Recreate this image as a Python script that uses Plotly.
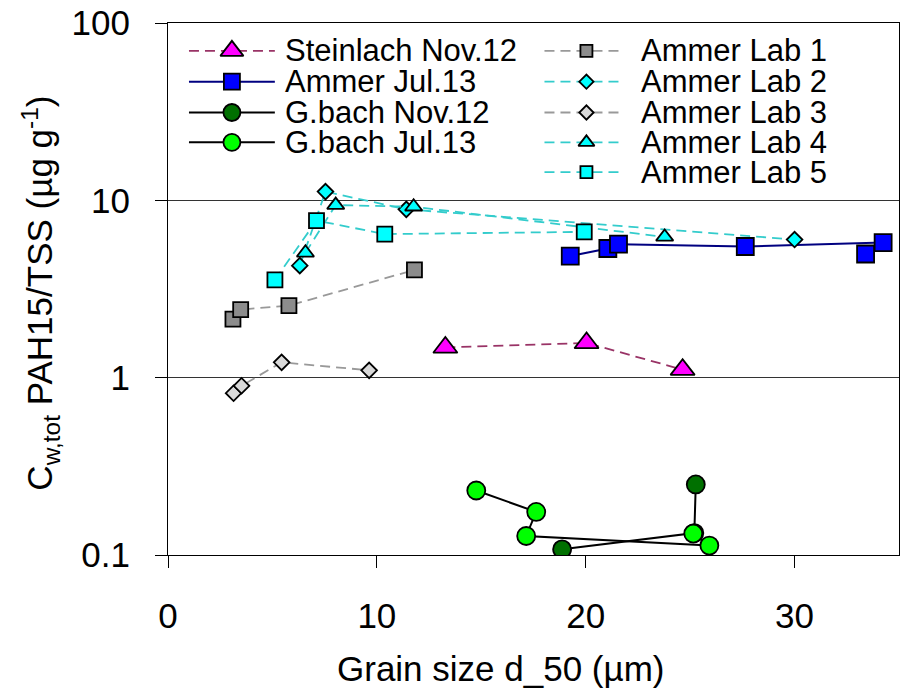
import plotly.graph_objects as go

# ---- data: grain size d_50 (µm) vs. PAH15/TSS (µg/g) ----
steinlach_nov12_x = [13.28, 20.04, 24.64]
steinlach_nov12_y = [1.48, 1.57, 1.11]

ammer_jul13_x = [19.26, 21.06, 21.57, 27.64, 34.24, 33.40]
ammer_jul13_y = [4.85, 5.35, 5.66, 5.49, 5.78, 4.98]

gbach_nov12_x = [18.87, 25.20, 25.27]
gbach_nov12_y = [0.1076, 0.133, 0.25]

gbach_jul13_x = [14.76, 17.63, 17.15, 25.92, 25.15]
gbach_jul13_y = [0.231, 0.175, 0.128, 0.113, 0.132]

lab1_x = [3.11, 3.48, 5.79, 11.80]
lab1_y = [2.14, 2.42, 2.55, 4.05]

lab2_x = [6.31, 7.54, 11.41, 30.00]
lab2_y = [4.28, 11.2, 8.90, 6.01]

lab3_x = [3.14, 3.52, 5.44, 9.63]
lab3_y = [0.817, 0.90, 1.22, 1.10]

lab4_x = [6.58, 8.03, 11.76, 23.78]
lab4_y = [5.06, 9.40, 9.20, 6.22]

lab5_x = [5.12, 7.11, 10.38, 19.93]
lab5_y = [3.56, 7.69, 6.45, 6.64]

x_ticks = [0, 10, 20, 30]
y_ticks = [0.1, 1, 10, 100]
y_tick_text = ["0.1", "1", "10", "100"]

FONT = "Liberation Sans, Arial, sans-serif"
DASH = "10px,6px"

series = [
    # name, x, y, symbol, size, fill, line colour, dash, key column, key marker size
    ("Steinlach Nov.12", steinlach_nov12_x, steinlach_nov12_y, "triangle-up", 21, "#FF00FF", "#993366", DASH, 0, 20),
    ("Ammer Jul.13", ammer_jul13_x, ammer_jul13_y, "square", 17, "#0000FF", "#000080", "solid", 0, 16),
    ("G.bach Nov.12", gbach_nov12_x, gbach_nov12_y, "circle", 18, "#007000", "#000000", "solid", 0, 17),
    ("G.bach Jul.13", gbach_jul13_x, gbach_jul13_y, "circle", 18, "#00FF00", "#000000", "solid", 0, 17),
    ("Ammer Lab 1", lab1_x, lab1_y, "square", 15, "#8C8C8C", "#999999", DASH, 1, 12),
    ("Ammer Lab 2", lab2_x, lab2_y, "diamond", 12, "#00FFFF", "#33CCCC", DASH, 1, 11),
    ("Ammer Lab 3", lab3_x, lab3_y, "diamond", 12, "#D9D9D9", "#999999", DASH, 1, 11),
    ("Ammer Lab 4", lab4_x, lab4_y, "triangle-up", 15, "#00FFFF", "#33CCCC", DASH, 1, 14),
    ("Ammer Lab 5", lab5_x, lab5_y, "square", 15, "#00FFFF", "#33CCCC", DASH, 1, 12),
]

fig = go.Figure()

# data traces on the main (linear x, log y) axes
for name, xs, ys, sym, size, fill, lcol, dash, col, lsize in series:
    fig.add_trace(go.Scatter(
        x=xs, y=ys, mode="lines+markers", name=name, showlegend=False,
        line=dict(color=lcol, width=2 if dash == "solid" else 1.8, dash=dash),
        marker=dict(symbol=sym, size=size, color=fill,
                    line=dict(color="#000000", width=1.8)),
    ))

# hand-built two-column key, drawn on an overlay axis pair spanning the plot area
W, H = 903, 691
L, R, T, B = 168, 3, 20, 136
PW, PH = W - L - R, H - T - B


def fx(px):
    return (px - L) / PW


def fy(py):
    return (H - B - py) / PH


rows = [48, 79, 110, 140, 170]
columns = [
    dict(x0=189, x1=275, xm=232, xt=283),
    dict(x0=545, x1=625, xm=587, xt=640),
]
row_count = [0, 0]
annotations = []
for name, xs, ys, sym, size, fill, lcol, dash, col, lsize in series:
    c = columns[col]
    yy = fy(rows[row_count[col]])
    row_count[col] += 1
    fig.add_trace(go.Scatter(
        x=[fx(c["x0"]), fx(c["x1"])], y=[yy, yy], mode="lines",
        xaxis="x2", yaxis="y2", showlegend=False, hoverinfo="skip",
        line=dict(color=lcol, width=2 if dash == "solid" else 1.8, dash=dash),
    ))
    fig.add_trace(go.Scatter(
        x=[fx(c["xm"])], y=[yy], mode="markers",
        xaxis="x2", yaxis="y2", showlegend=False, hoverinfo="skip",
        marker=dict(symbol=sym, size=lsize, color=fill,
                    line=dict(color="#000000", width=1.8)),
    ))
    annotations.append(dict(
        text=name, x=fx(c["xt"]), y=yy, xref="paper", yref="paper",
        xanchor="left", yanchor="middle", showarrow=False,
        font=dict(family=FONT, size=31, color="#000000"),
    ))

# axis titles
annotations.append(dict(
    text="C<sub>w,tot</sub> PAH15/TSS (µg g<sup>-1</sup>)",
    x=fx(40), y=fy(292), xref="paper", yref="paper", textangle=-90,
    xanchor="center", yanchor="middle", showarrow=False,
    font=dict(family=FONT, size=35, color="#000000"),
))
annotations.append(dict(
    text="Grain size d_50 (µm)",
    x=fx(501), y=fy(669), xref="paper", yref="paper",
    xanchor="center", yanchor="middle", showarrow=False,
    font=dict(family=FONT, size=35, color="#000000"),
))

axis_font = dict(family=FONT, size=35, color="#000000")

fig.update_layout(
    width=W, height=H,
    margin=dict(l=L, r=R, t=T, b=B, pad=0),
    paper_bgcolor="#FFFFFF", plot_bgcolor="#FFFFFF",
    showlegend=False,
    annotations=annotations,
    xaxis=dict(
        range=[0, 35], tickvals=x_ticks, ticks="outside", ticklen=12,
        tickwidth=1, tickcolor="#000000", showline=True, linecolor="#000000",
        linewidth=1.2, mirror=True, showgrid=False, zeroline=False,
        tickfont=axis_font, ticklabelstandoff=18,
    ),
    yaxis=dict(
        type="log", range=[-1, 2], tickvals=y_ticks, ticktext=y_tick_text,
        ticks="outside", ticklen=12, tickwidth=1, tickcolor="#000000",
        showline=True, linecolor="#000000", linewidth=1.2, mirror=True,
        showgrid=True, gridcolor="#333333", gridwidth=1, zeroline=False,
        tickfont=axis_font, ticklabelstandoff=18,
    ),
    xaxis2=dict(overlaying="x", range=[0, 1], visible=False, fixedrange=True),
    yaxis2=dict(overlaying="y", range=[0, 1], visible=False, fixedrange=True),
)

fig.write_html("out.html")
